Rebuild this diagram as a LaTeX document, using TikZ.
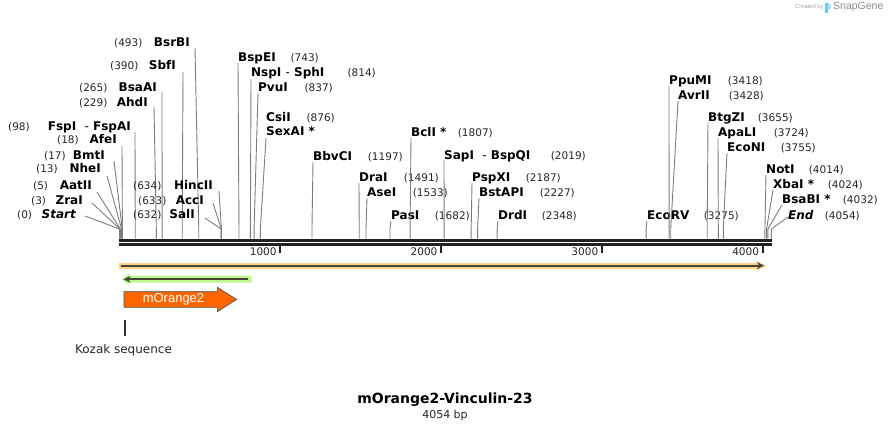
\documentclass[tikz,border=0pt]{standalone}
\usepackage{fontspec}
\setmainfont{DejaVu Sans}
\newfontfamily\libsans{Liberation Sans}
\usetikzlibrary{arrows.meta}
\definecolor{cutline}{RGB}{125,125,125}
\definecolor{bbcol}{RGB}{34,34,34}
\definecolor{featorange}{RGB}{252,210,130}
\definecolor{featgreen}{RGB}{190,248,140}
\definecolor{featdark}{RGB}{72,70,60}
\definecolor{morange}{RGB}{255,102,0}
\definecolor{logoblue}{RGB}{110,200,240}
\tikzset{
  numlab/.style={inner sep=0pt, font=\fontsize{10.5}{12}\selectfont, text=black!85},
  namelab/.style={inner sep=0pt, font=\fontsize{12}{14}\selectfont\bfseries},
  ticklab/.style={inner sep=0pt, font=\fontsize{10.5}{12}\selectfont, text=black!85},
  cutln/.style={draw=cutline, line width=0.9pt},
  bbline/.style={draw=bbcol, line width=2.8pt},
  tickmark/.style={draw=bbcol, line width=1.8pt},
}
% left-side label: id, number start x, name end x, centre y, line x, line y, position, name
\newcommand\enzL[8]{%
  \node[numlab, anchor=base west] (#1n) at ({#2},{#4+4}) {(#7)};
  \node[namelab, anchor=base east] (#1) at ({#3},{#4+4}) {#8};
  \coordinate (#1a) at ({#5},{#6});
  \coordinate (#1b) at ({119.5+0.1608*#7},229);
  \coordinate (#1c) at ({119.5+0.1608*#7},238.5);
  \draw[cutln] (#1a) -- (#1b) -- (#1c);
}
% right-side label: id, name start x, number end x, centre y, line y, position, name
\newcommand\enzR[7]{%
  \node[namelab, anchor=base west] (#1) at ({#2},{#4+4}) {#7};
  \node[numlab, anchor=base east] (#1n) at ({#3},{#4+4}) {(#6)};
  \coordinate (#1a) at ({#2},{#5});
  \coordinate (#1b) at ({119.5+0.1608*#6},229);
  \coordinate (#1c) at ({119.5+0.1608*#6},238.5);
  \draw[cutln] (#1a) -- (#1b) -- (#1c);
}
\begin{document}
\begin{tikzpicture}[x=1pt,y=-1pt]
\useasboundingbox (0,0) rectangle (892,431);

% restriction sites, left side
\enzL{bsrbi}{114}{190}{42}{195}{48}{493}{BsrBI}
\enzL{sbfi}{110}{176}{65}{183}{72}{390}{SbfI}
\enzL{bsaai}{79}{157}{87}{162}{92}{265}{BsaAI}
\enzL{ahdi}{79}{148}{102}{154}{107}{229}{AhdI}
\enzL{fspi}{8}{131}{126}{135}{132}{98}{FspI\ \ {\mdseries -}\ FspAI}
\enzL{afei}{57}{117}{139}{122}{146}{18}{AfeI}
\enzL{bmti}{44}{105}{155}{114}{161}{17}{BmtI}
\enzL{nhei}{36}{101}{168}{107}{176}{13}{NheI}
\enzL{aatii}{33}{92}{185}{97}{192}{5}{AatII}
\enzL{zrai}{31}{83}{200}{92}{203}{3}{ZraI}
\enzL{startl}{17}{76}{214}{85}{216}{0}{\itshape Start}
\enzL{sali}{133}{195}{214}{205}{218}{632}{SalI}
\enzL{acci}{138}{204}{200}{213}{203}{633}{AccI}
\enzL{hincii}{133}{213}{185}{219}{191}{634}{HincII}

% restriction sites, right side
\enzR{bspei}{238}{319}{57}{63}{743}{BspEI}
\enzR{nspi}{251}{376}{72}{79}{814}{NspI\ {\mdseries -}\ SphI}
\enzR{pvui}{258}{333}{87}{93}{837}{PvuI}
\enzR{csii}{266}{335}{117}{138}{876}{CsiI}
\node[namelab, anchor=base west] (sexai) at (266,135) {SexAI *};
\enzR{bbvci}{313}{403}{156}{162}{1197}{BbvCI}
\enzR{drai}{359}{439}{177}{183}{1491}{DraI}
\enzR{asei}{367}{448}{192}{198}{1533}{AseI}
\enzR{pasi}{391}{470}{215}{221}{1682}{PasI}
\enzR{bcli}{411}{493}{132}{138}{1807}{BclI *}
\enzR{sapi}{444}{586}{155}{160}{2019}{SapI\ \ {\mdseries -}\ BspQI}
\enzR{pspxi}{472}{561}{177}{183}{2187}{PspXI}
\enzR{bstapi}{479}{575}{192}{198}{2227}{BstAPI}
\enzR{drdi}{498}{577}{215}{221}{2348}{DrdI}
\enzR{ecorv}{647}{739}{215}{221}{3275}{EcoRV}
\enzR{ppumi}{669}{763}{80}{86}{3418}{PpuMI}
\enzR{avrii}{678}{764}{95}{101}{3428}{AvrII}
\enzR{btgzi}{708}{793}{117}{123}{3655}{BtgZI}
\enzR{apali}{718}{809}{132}{138}{3724}{ApaLI}
\enzR{econi}{727}{816}{147}{153}{3755}{EcoNI}
\enzR{noti}{766}{844}{169}{175}{4014}{NotI}
\enzR{xbai}{773}{863}{184}{190}{4024}{XbaI *}
\enzR{bsabi}{782}{878}{199}{205}{4032}{BsaBI *}
\enzR{endl}{788}{860}{215}{217}{4054}{\itshape End}

% backbone
\coordinate (bbA) at (119,240.3);
\coordinate (bbB) at (771.7,240.3);
\coordinate (bbC) at (119,244.7);
\coordinate (bbD) at (771.7,244.7);
\draw[bbline] (bbA) -- (bbB);
\draw[bbline] (bbC) -- (bbD);

% ruler ticks
\foreach \k in {1,2,3,4}{
  \coordinate (tk\k a) at ({119.5+160.8*\k},245.5);
  \coordinate (tk\k b) at ({119.5+160.8*\k},253.3);
  \draw[tickmark] (tk\k a) -- (tk\k b);
  \node[ticklab, anchor=east] (tl\k) at ({116+160.8*\k},252) {\k000};
}

% features
\fill[featorange] (119,263) -- (757,263) -- (757,261.5) -- (766,266) -- (757,270.5) -- (757,269) -- (119,269) -- cycle;
\draw[featdark, line width=2pt, -{Stealth[length=7pt,width=7pt]}] (120.7,265.6) -- (764,265.6);

\fill[featgreen] (251.7,275.5) -- (129,275.5) -- (129,273.5) -- (121.5,279.3) -- (129,285) -- (129,282.5) -- (251.7,282.5) -- cycle;
\draw[featdark, line width=2pt, -{Stealth[length=7pt,width=7pt]}] (248,279.3) -- (123.5,279.3);

\filldraw[fill=morange, draw=black!70, line width=0.6pt]
  (124,291.7) -- (217.3,291.7) -- (217.3,287.3) -- (236.7,299.5) -- (217.3,311.7) -- (217.3,307.3) -- (124,307.3) -- cycle;
\node[inner sep=0pt, text=white, font=\libsans\fontsize{13}{15}\selectfont] (morange2) at (173.5,299.5) {mOrange2};

\coordinate (kozA) at (125,320);
\coordinate (kozB) at (125,335.5);
\draw[black!80, line width=1.8pt] (kozA) -- (kozB);
\node[inner sep=0pt, font=\fontsize{12}{14}\selectfont, text=black!85] (kozak) at (123.5,350) {Kozak sequence};

% title
\node[inner sep=0pt, font=\fontsize{14}{16}\selectfont\bfseries] (title) at (445,400) {mOrange2-Vinculin-23};
\node[inner sep=0pt, font=\fontsize{11}{13}\selectfont, text=black!85] (bp) at (445,415) {4054 bp};

% watermark
\node[inner sep=0pt, anchor=west, text=black!35, font=\libsans\fontsize{5.8}{7}\selectfont] (created) at (795,7) {Created by};
\fill[logoblue] (825,2.5) rectangle (827.6,13);
\fill[logoblue!60] (827.6,2.5) .. controls (832,2.5) and (832,9.5) .. (827.6,9.5) -- cycle;
\node[inner sep=0pt, anchor=west, text=black!45, font=\libsans\fontsize{10.5}{12}\selectfont] (snapgene) at (833,7) {SnapGene};
\end{tikzpicture}
\end{document}
